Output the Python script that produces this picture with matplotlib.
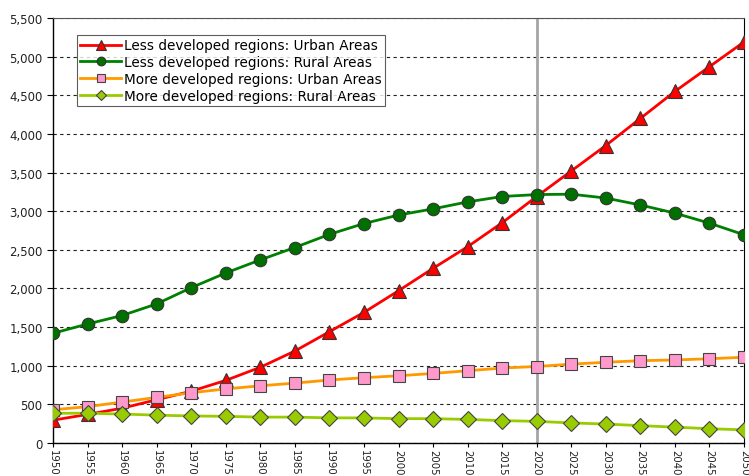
import matplotlib
matplotlib.use("Agg")
import matplotlib.pyplot as plt
from matplotlib.ticker import FuncFormatter, MultipleLocator

years = list(range(1950, 2051, 5))
less_urban = [295, 370, 450, 560, 670, 810, 980, 1190, 1440, 1690, 1970, 2260, 2540,
              2850, 3190, 3520, 3850, 4200, 4550, 4870, 5190]
less_rural = [1420, 1540, 1650, 1800, 2010, 2200, 2370, 2530, 2700, 2840, 2950, 3030,
              3120, 3190, 3215, 3220, 3170, 3080, 2975, 2845, 2695]
more_urban = [430, 470, 530, 590, 650, 700, 740, 775, 815, 845, 870, 900, 935, 970,
              990, 1020, 1045, 1065, 1075, 1090, 1110]
more_rural = [385, 385, 375, 360, 350, 345, 335, 335, 325, 325, 315, 315, 305, 290,
              280, 260, 245, 225, 205, 185, 170]
labels = ["Less developed regions: Urban Areas",
          "Less developed regions: Rural Areas",
          "More developed regions: Urban Areas",
          "More developed regions: Rural Areas"]

fig = plt.figure(figsize=(7.49, 4.77), dpi=100)
bottom_px = 444
ax = fig.add_axes([53/749, 1-bottom_px/477, (744-53)/749, (bottom_px-19)/477])

ax.axvline(2020, color="#a6a6a6", lw=2, zorder=1)
ax.plot(years, less_urban, color="#ff0000", lw=2, marker="^", ms=10,
        mfc="#ff0000", mec="#333333", mew=0.8, label=labels[0], zorder=3)
ax.plot(years, less_rural, color="#008000", lw=2, marker="o", ms=9,
        mfc="#007000", mec="#333333", mew=0.8, label=labels[1], zorder=3)
ax.plot(years, more_urban, color="#ff9900", lw=2, marker="s", ms=8.5,
        mfc="#ff99cc", mec="#444444", mew=0.8, label=labels[2], zorder=3)
ax.plot(years, more_rural, color="#99cc00", lw=2, marker="D", ms=8,
        mfc="#99cc00", mec="#444444", mew=0.8, label=labels[3], zorder=3)

ax.set_xlim(1950, 2050)
ax.set_ylim(0, 5500)
ax.yaxis.set_major_locator(MultipleLocator(500))
ax.yaxis.set_major_formatter(FuncFormatter(lambda v, p: f"{int(v):,}"))
ax.set_xticks(years)
ax.set_xticklabels([str(y) for y in years], rotation=270, fontsize=7.3, color="#222222")
ax.tick_params(axis="y", labelsize=8.5, labelcolor="#222222", length=4, direction="out")
ax.tick_params(axis="x", length=3, direction="out", pad=1)
ax.grid(axis="y", color="#222222", ls=(0, (3, 3)), lw=0.8, zorder=0)
ax.set_axisbelow(True)
for s in ["left", "bottom"]:
    ax.spines[s].set_color("#000000")
    ax.spines[s].set_linewidth(1)
ax.spines["top"].set_color("#555555")
ax.spines["right"].set_color("#000000")

leg = ax.legend(loc="upper left", bbox_to_anchor=((77-53)/691, (bottom_px-36)/(bottom_px-19)),
                fontsize=9.8, frameon=True, fancybox=False, edgecolor="#333333",
                handlelength=3, handletextpad=0.2, borderpad=0.25, labelspacing=0.2,
                markerscale=0.7, borderaxespad=0)
leg.get_frame().set_linewidth(0.8)

fig.savefig("out.png", dpi=100)
